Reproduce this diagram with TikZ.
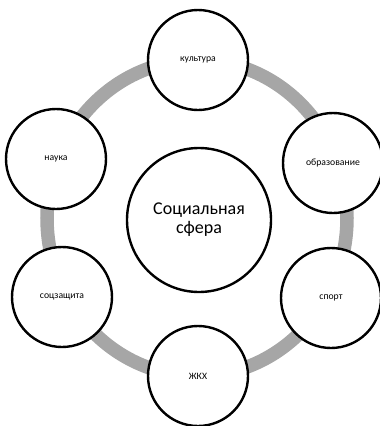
\documentclass[tikz,border=0pt]{standalone}
\usepackage{fontspec}
\setmainfont{Carlito}
\begin{document}
\begin{tikzpicture}[x=1pt,y=-1pt,
  sat/.style={circle,draw=black,line width=2.4pt,fill=white,minimum size=100pt,inner sep=0pt,font=\fontsize{9.7}{11}\selectfont},
  hub/.style={circle,draw=black,line width=2.4pt,fill=white,minimum size=144pt,inner sep=0pt,align=center,font=\fontsize{18}{19}\selectfont},
  ring/.style={draw=black!35,line width=13.5pt}]
\useasboundingbox (0,0) rectangle (380,426);
\draw[ring] (197,218) ellipse [x radius=150, y radius=158];
\node[hub] (c) at (199,220) {Социальная\\сфера};
\node[sat] (k) at (198,60) {культура};
\node[sat] (o) at (333,163) {образование};
\node[sat] (s) at (331,298) {спорт};
\node[sat] (z) at (198,376) {ЖКХ};
\node[sat] (sz) at (62,297) {соцзащита};
\node[sat] (n) at (56,159) {наука};
\end{tikzpicture}
\end{document}
